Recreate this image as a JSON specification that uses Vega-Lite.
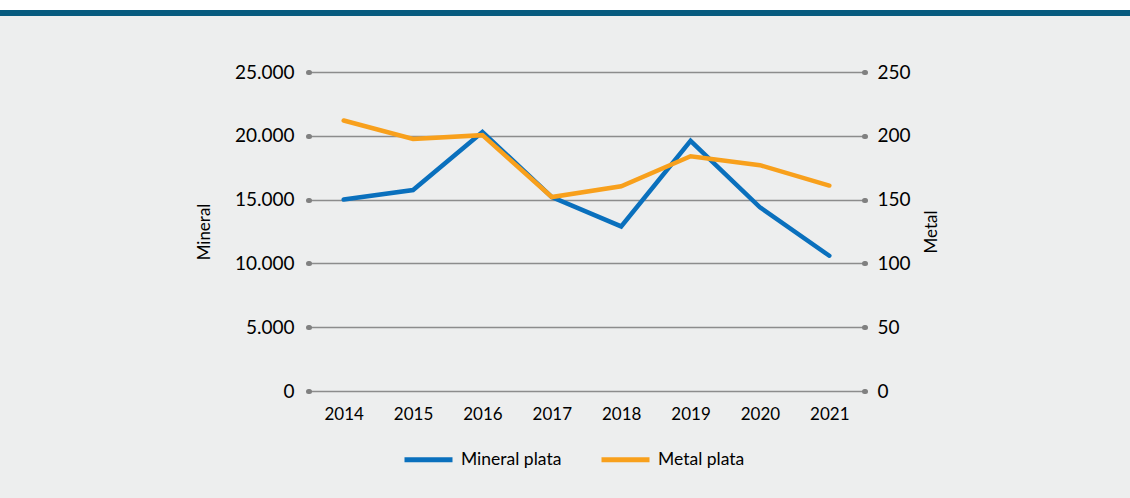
{
  "$schema": "https://vega.github.io/schema/vega-lite/v6.json",
  "background": "#edeeee",
  "padding": {"left": 0, "top": 0, "right": 0, "bottom": 30},
  "spacing": 47,
  "config": {
    "font": "Lato",
    "view": {"stroke": null},
    "axis": {"labelColor": "#000000", "titleColor": "#000000", "titleFontWeight": "normal"}
  },
  "vconcat": [
    {
      "spacing": 0,
      "vconcat": [
        {"width": 1130, "height": 10, "data": {"values": []}, "mark": "text", "encoding": {}, "view": {"fill": "#ffffff", "stroke": null}},
        {"width": 1130, "height": 6, "data": {"values": []}, "mark": "text", "encoding": {}, "view": {"fill": "#075b7f", "stroke": null}}
      ]
    },
    {
      "spacing": 0,
      "hconcat": [
        {"width": 195, "height": 319, "data": {"values": []}, "mark": "text", "encoding": {}, "view": {"stroke": null}},
        {
          "width": 555,
          "height": 319,
          "data": {
            "values": [
              {"year": "2014", "mineral": 15000, "metal": 212},
              {"year": "2015", "mineral": 15750, "metal": 197.5},
              {"year": "2016", "mineral": 20300, "metal": 200.5},
              {"year": "2017", "mineral": 15200, "metal": 152},
              {"year": "2018", "mineral": 12900, "metal": 160.5},
              {"year": "2019", "mineral": 19600, "metal": 184},
              {"year": "2020", "mineral": 14400, "metal": 177},
              {"year": "2021", "mineral": 10600, "metal": 161}
            ]
          },
          "encoding": {
            "x": {
              "field": "year", "type": "ordinal",
              "axis": {"title": null, "labelAngle": 0, "ticks": false, "domain": false, "grid": false, "labelPadding": 15, "labelFontSize": 17}
            }
          },
          "layer": [
            {
              "mark": {"type": "line", "strokeWidth": 4.5, "strokeCap": "round"},
              "encoding": {
                "y": {
                  "field": "mineral", "type": "quantitative",
                  "scale": {"domain": [0, 25000], "nice": false},
                  "axis": {
                    "orient": "left", "title": "Mineral", "values": [0, 5000, 10000, 15000, 20000, 25000],
                    "labelExpr": "replace(format(datum.value, ','), ',', '.')",
                    "grid": true, "gridColor": "#8c8c8c", "gridWidth": 1.5,
                    "domain": false, "tickSize": 1, "tickWidth": 5, "tickCap": "round", "tickColor": "#808080",
                    "labelPadding": 14, "labelFontSize": 19, "titleFontSize": 17, "titlePadding": 21
                  }
                },
                "color": {
                  "datum": "Mineral plata", "type": "nominal",
                  "scale": {"domain": ["Mineral plata", "Metal plata"], "range": ["#0a70bd", "#f8a01c"]},
                  "legend": {
                    "title": null, "orient": "none", "legendX": 402, "legendY": 433, "direction": "horizontal",
                    "symbolType": "stroke", "symbolSize": 2304, "symbolStrokeWidth": 5,
                    "labelFontSize": 17.5, "labelOffset": 6, "columnPadding": 29, "labelColor": "#000000"
                  }
                }
              }
            },
            {
              "mark": {"type": "line", "strokeWidth": 4.5, "strokeCap": "round"},
              "encoding": {
                "y": {
                  "field": "metal", "type": "quantitative",
                  "scale": {"domain": [0, 250], "nice": false},
                  "axis": {
                    "orient": "right", "title": "Metal", "titleAngle": 270, "values": [0, 50, 100, 150, 200, 250],
                    "grid": false, "domain": false, "tickSize": 1, "tickWidth": 5, "tickCap": "round", "tickColor": "#808080",
                    "labelPadding": 12, "labelFontSize": 19, "titleFontSize": 17, "titlePadding": 30
                  }
                },
                "color": {"datum": "Metal plata", "type": "nominal"}
              }
            }
          ],
          "resolve": {"scale": {"y": "independent"}}
        }
      ]
    }
  ]
}
